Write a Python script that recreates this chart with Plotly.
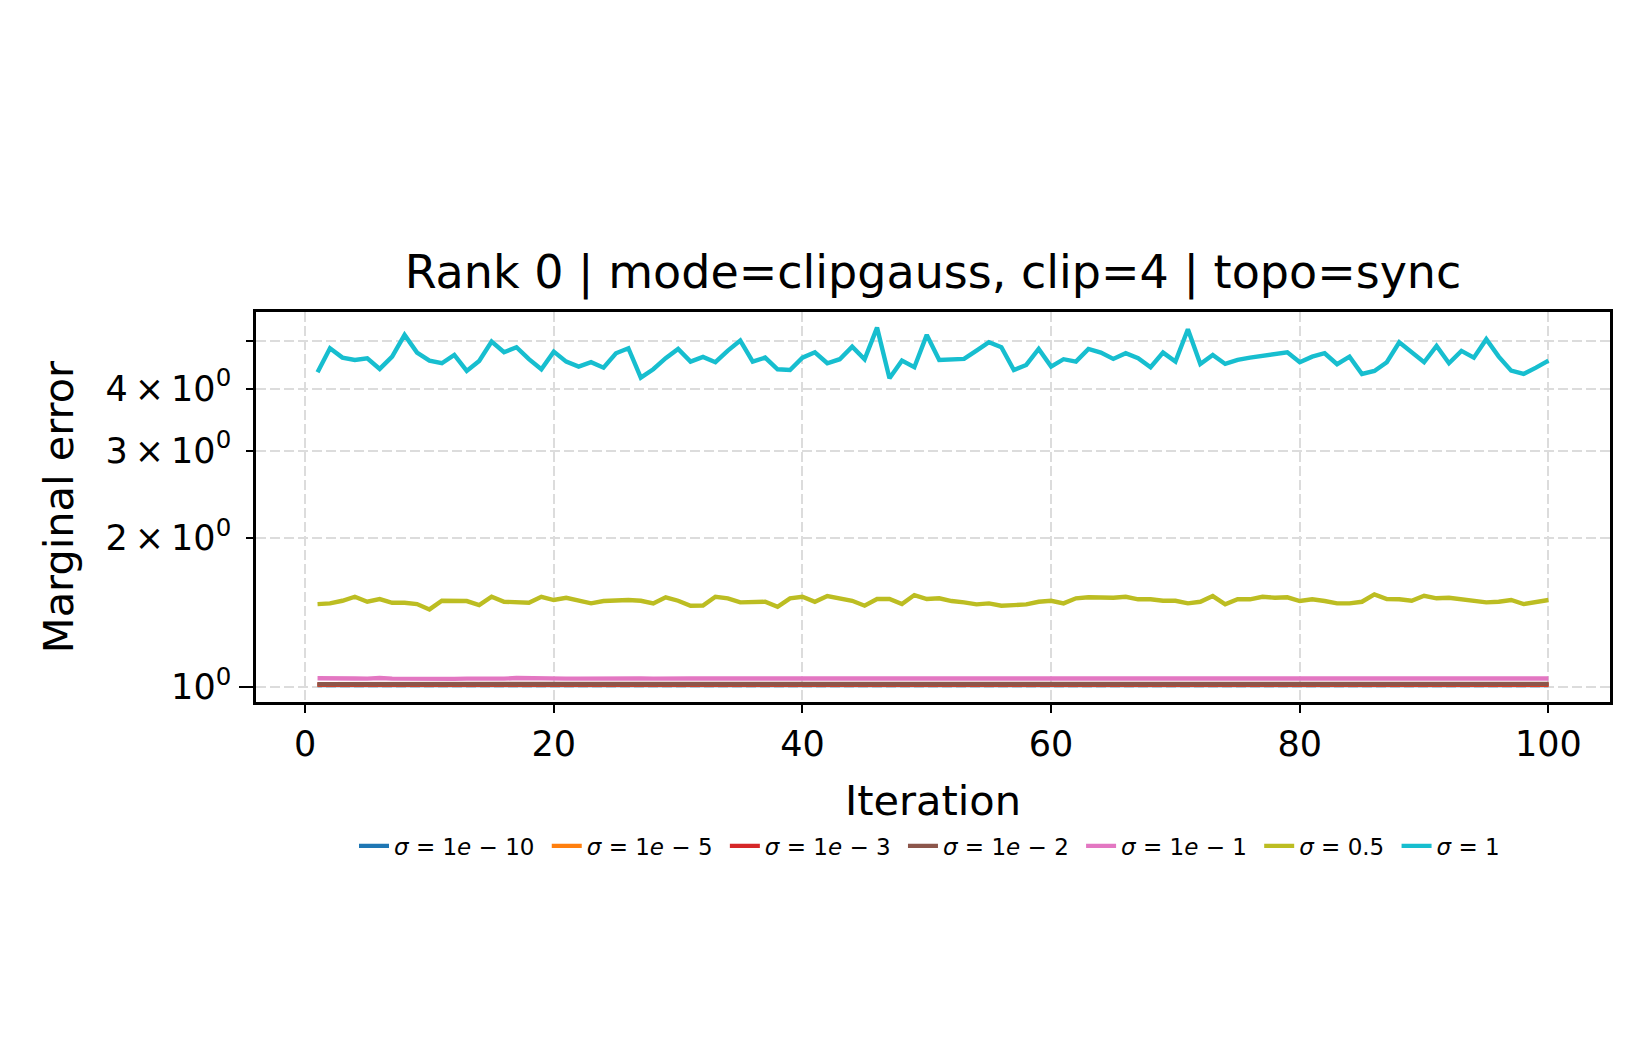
import plotly.graph_objects as go

iterations = list(range(1, 101))

legend_labels = ["<i>σ</i> = 1<i>e</i> − 10", "<i>σ</i> = 1<i>e</i> − 5",
                 "<i>σ</i> = 1<i>e</i> − 3", "<i>σ</i> = 1<i>e</i> − 2",
                 "<i>σ</i> = 1<i>e</i> − 1", "<i>σ</i> = 0.5", "<i>σ</i> = 1"]
colors = ["#1f77b4", "#ff7f0e", "#d62728", "#8c564b", "#e377c2", "#bcbd22", "#17becf"]

err_1e10 = [1.010, 1.010, 1.011, 1.010, 1.010, 1.011, 1.010, 1.010, 1.010, 1.011,
            1.010, 1.010, 1.010, 1.011, 1.010, 1.010, 1.010, 1.011, 1.010, 1.010,
            1.011, 1.010, 1.010, 1.010, 1.011, 1.010, 1.010, 1.010, 1.011, 1.010,
            1.010, 1.011, 1.010, 1.010, 1.010, 1.011, 1.010, 1.010, 1.011, 1.010,
            1.010, 1.010, 1.011, 1.010, 1.010, 1.011, 1.010, 1.010, 1.010, 1.011,
            1.010, 1.010, 1.011, 1.010, 1.010, 1.010, 1.011, 1.010, 1.010, 1.011,
            1.010, 1.010, 1.010, 1.011, 1.010, 1.010, 1.011, 1.010, 1.010, 1.010,
            1.011, 1.010, 1.010, 1.011, 1.010, 1.010, 1.010, 1.011, 1.010, 1.010,
            1.011, 1.010, 1.010, 1.010, 1.011, 1.010, 1.010, 1.011, 1.010, 1.010,
            1.010, 1.011, 1.010, 1.010, 1.011, 1.010, 1.010, 1.010, 1.011, 1.010]
err_1e5 = [1.011, 1.011, 1.012, 1.011, 1.011, 1.012, 1.011, 1.011, 1.011, 1.012,
           1.011, 1.011, 1.011, 1.012, 1.011, 1.011, 1.011, 1.012, 1.011, 1.011,
           1.012, 1.011, 1.011, 1.011, 1.012, 1.011, 1.011, 1.011, 1.012, 1.011,
           1.011, 1.012, 1.011, 1.011, 1.011, 1.012, 1.011, 1.011, 1.012, 1.011,
           1.011, 1.011, 1.012, 1.011, 1.011, 1.012, 1.011, 1.011, 1.011, 1.012,
           1.011, 1.011, 1.012, 1.011, 1.011, 1.011, 1.012, 1.011, 1.011, 1.012,
           1.011, 1.011, 1.011, 1.012, 1.011, 1.011, 1.012, 1.011, 1.011, 1.011,
           1.012, 1.011, 1.011, 1.012, 1.011, 1.011, 1.011, 1.012, 1.011, 1.011,
           1.012, 1.011, 1.011, 1.011, 1.012, 1.011, 1.011, 1.012, 1.011, 1.011,
           1.011, 1.012, 1.011, 1.011, 1.012, 1.011, 1.011, 1.011, 1.012, 1.011]
err_1e3 = [1.012, 1.012, 1.013, 1.012, 1.012, 1.013, 1.012, 1.012, 1.012, 1.013,
           1.012, 1.012, 1.012, 1.013, 1.012, 1.012, 1.012, 1.013, 1.012, 1.012,
           1.013, 1.012, 1.012, 1.012, 1.013, 1.012, 1.012, 1.012, 1.013, 1.012,
           1.012, 1.013, 1.012, 1.012, 1.012, 1.013, 1.012, 1.012, 1.013, 1.012,
           1.012, 1.012, 1.013, 1.012, 1.012, 1.013, 1.012, 1.012, 1.012, 1.013,
           1.012, 1.012, 1.013, 1.012, 1.012, 1.012, 1.013, 1.012, 1.012, 1.013,
           1.012, 1.012, 1.012, 1.013, 1.012, 1.012, 1.013, 1.012, 1.012, 1.012,
           1.013, 1.012, 1.012, 1.013, 1.012, 1.012, 1.012, 1.013, 1.012, 1.012,
           1.013, 1.012, 1.012, 1.012, 1.013, 1.012, 1.012, 1.013, 1.012, 1.012,
           1.012, 1.013, 1.012, 1.012, 1.013, 1.012, 1.012, 1.012, 1.013, 1.012]
err_1e2 = [1.014, 1.014, 1.014, 1.015, 1.014, 1.014, 1.015, 1.014, 1.014, 1.014,
           1.015, 1.014, 1.014, 1.014, 1.014, 1.015, 1.014, 1.014, 1.014, 1.015,
           1.014, 1.014, 1.015, 1.014, 1.014, 1.014, 1.015, 1.014, 1.014, 1.015,
           1.014, 1.014, 1.014, 1.015, 1.014, 1.014, 1.015, 1.014, 1.014, 1.014,
           1.015, 1.014, 1.014, 1.014, 1.015, 1.014, 1.014, 1.014, 1.015, 1.014,
           1.014, 1.015, 1.014, 1.014, 1.014, 1.015, 1.014, 1.014, 1.014, 1.015,
           1.016, 1.015, 1.014, 1.014, 1.015, 1.014, 1.014, 1.015, 1.014, 1.014,
           1.015, 1.014, 1.014, 1.014, 1.015, 1.014, 1.014, 1.015, 1.014, 1.014,
           1.014, 1.015, 1.014, 1.015, 1.014, 1.014, 1.014, 1.015, 1.014, 1.014,
           1.015, 1.014, 1.015, 1.014, 1.014, 1.014, 1.015, 1.014, 1.014, 1.015]
err_1e1 = [1.042, 1.040, 1.040, 1.041, 1.040, 1.043, 1.040, 1.039, 1.040, 1.040,
           1.040, 1.039, 1.040, 1.039, 1.041, 1.040, 1.043, 1.041, 1.040, 1.040,
           1.040, 1.040, 1.041, 1.040, 1.041, 1.039, 1.041, 1.040, 1.042, 1.041,
           1.041, 1.041, 1.041, 1.040, 1.041, 1.040, 1.041, 1.041, 1.042, 1.041,
           1.040, 1.041, 1.041, 1.041, 1.040, 1.041, 1.040, 1.039, 1.040, 1.040,
           1.041, 1.040, 1.041, 1.040, 1.040, 1.040, 1.040, 1.041, 1.041, 1.040,
           1.043, 1.042, 1.039, 1.040, 1.040, 1.041, 1.039, 1.040, 1.040, 1.039,
           1.041, 1.040, 1.041, 1.040, 1.041, 1.040, 1.041, 1.040, 1.041, 1.041,
           1.041, 1.041, 1.040, 1.041, 1.042, 1.041, 1.041, 1.041, 1.040, 1.041,
           1.041, 1.040, 1.041, 1.041, 1.040, 1.041, 1.040, 1.040, 1.042, 1.041]
err_05 = [1.471, 1.476, 1.494, 1.522, 1.487, 1.506, 1.480, 1.480, 1.471, 1.435,
          1.494, 1.492, 1.492, 1.464, 1.522, 1.487, 1.483, 1.480, 1.522, 1.499,
          1.515, 1.492, 1.476, 1.492, 1.499, 1.499, 1.494, 1.476, 1.518, 1.494,
          1.460, 1.461, 1.522, 1.511, 1.483, 1.483, 1.487, 1.453, 1.511, 1.522,
          1.487, 1.527, 1.511, 1.494, 1.460, 1.506, 1.506, 1.471, 1.534, 1.506,
          1.511, 1.492, 1.483, 1.469, 1.476, 1.460, 1.464, 1.469, 1.487, 1.494,
          1.476, 1.511, 1.518, 1.515, 1.515, 1.522, 1.504, 1.504, 1.494, 1.494,
          1.476, 1.487, 1.527, 1.469, 1.504, 1.504, 1.522, 1.515, 1.518, 1.492,
          1.504, 1.492, 1.476, 1.476, 1.487, 1.539, 1.506, 1.504, 1.494, 1.529,
          1.511, 1.515, 1.504, 1.487, 1.483, 1.487, 1.499, 1.471, 1.483, 1.499]
err_1 = [4.323, 4.833, 4.627, 4.578, 4.614, 4.390, 4.648, 5.142, 4.736, 4.563,
         4.508, 4.685, 4.349, 4.557, 4.984, 4.744, 4.856, 4.593, 4.383, 4.758,
         4.541, 4.437, 4.529, 4.416, 4.722, 4.833, 4.216, 4.383, 4.614, 4.818,
         4.541, 4.642, 4.529, 4.780, 5.007, 4.541, 4.627, 4.383, 4.369, 4.627,
         4.744, 4.508, 4.593, 4.870, 4.593, 5.319, 4.204, 4.563, 4.425, 5.142,
         4.578, 4.593, 4.599, 4.780, 4.970, 4.856, 4.369, 4.472, 4.818, 4.437,
         4.593, 4.541, 4.818, 4.736, 4.599, 4.722, 4.614, 4.425, 4.736, 4.541,
         5.280, 4.493, 4.685, 4.493, 4.578, 4.627, 4.670, 4.722, 4.744, 4.529,
         4.648, 4.722, 4.487, 4.648, 4.289, 4.349, 4.529, 4.970, 4.744, 4.529,
         4.885, 4.508, 4.773, 4.627, 5.040, 4.648, 4.355, 4.289, 4.416, 4.563]

series = [err_1e10, err_1e5, err_1e3, err_1e2, err_1e1, err_05, err_1]

y_tickvals = [1, 2, 3, 4, 5]
y_ticktext = ["10<sup>0</sup>", "2\u2009×\u200910<sup>0</sup>", "3\u2009×\u200910<sup>0</sup>",
              "4\u2009×\u200910<sup>0</sup>", ""]
x_tickvals = [0, 20, 40, 60, 80, 100]

FONT = "DejaVu Sans"
GRID = "#dcdcdc"

fig = go.Figure()
for name, vals, col in zip(legend_labels, series, colors):
    fig.add_trace(go.Scatter(x=iterations, y=vals, mode="lines",
                             name=name + "\u00a0",
                             line=dict(color=col, width=4.4)))

fig.update_layout(
    width=1650, height=1050,
    paper_bgcolor="white", plot_bgcolor="white",
    margin=dict(l=248, r=48, t=304, b=356),
    font=dict(family=FONT, color="black", size=35),
    title=dict(text="Rank 0 | mode=clipgauss, clip=4 | topo=sync",
               x=0.5, xref="paper", xanchor="center",
               y=0.749, yref="container", yanchor="middle",
               font=dict(family=FONT, size=46, color="black")),
    showlegend=True,
    legend=dict(orientation="h", x=0.5, xanchor="center", xref="paper",
                y=-0.369, yanchor="middle", yref="paper",
                font=dict(family=FONT, size=23, color="black"),
                bgcolor="rgba(0,0,0,0)", itemwidth=30, tracegroupgap=0),
)

fig.update_xaxes(
    range=[-3.95, 104.95], tickvals=x_tickvals,
    showline=True, linecolor="black", linewidth=2.5, mirror=True,
    ticks="outside", ticklen=8, tickwidth=2, tickcolor="black",
    showgrid=True, gridcolor=GRID, gridwidth=2, griddash="10px,4px",
    zeroline=False,
    tickfont=dict(family=FONT, size=35),
    ticklabelstandoff=1,
    title=dict(text="Iteration", font=dict(family=FONT, size=41.5), standoff=24),
)
fig.update_yaxes(
    type="log", range=[-0.0301, 0.7574],
    tickvals=y_tickvals, ticktext=y_ticktext,
    showline=True, linecolor="black", linewidth=2.5, mirror=True,
    ticks="outside", ticklen=7, tickwidth=2, tickcolor="black",
    minor=dict(tickvals=[1], ticklen=14, tickwidth=2, tickcolor="black",
               ticks="outside", showgrid=False),
    showgrid=True, gridcolor=GRID, gridwidth=2, griddash="10px,4px",
    zeroline=False,
    tickfont=dict(family=FONT, size=35),
    ticklabelstandoff=8,
    title=dict(text="Marginal error", font=dict(family=FONT, size=41.5), standoff=20),
)

fig.write_html("out.html")
